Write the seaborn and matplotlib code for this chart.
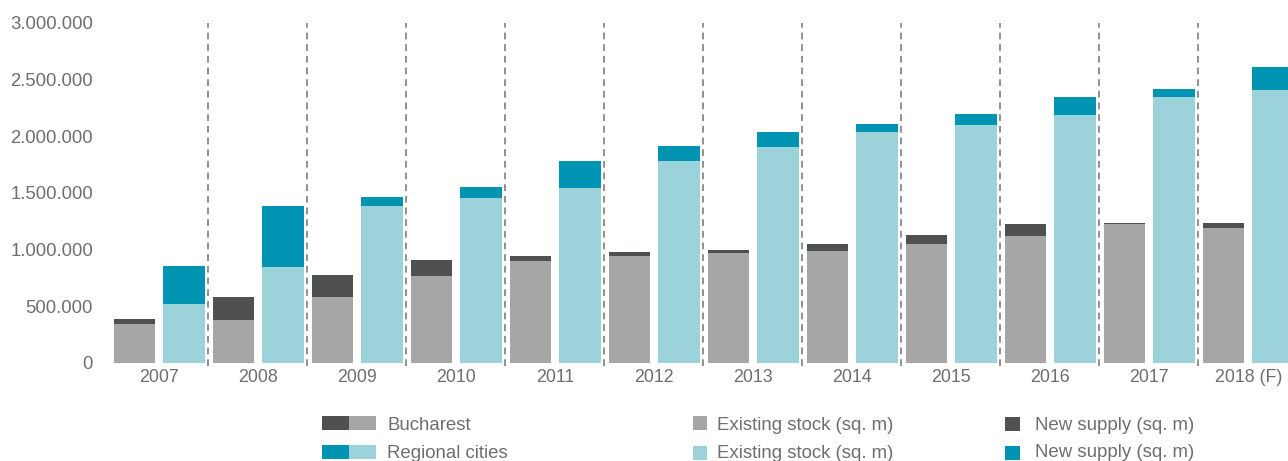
import matplotlib
matplotlib.use("Agg")
import matplotlib.pyplot as plt
from matplotlib.patches import Rectangle
from matplotlib.ticker import FuncFormatter, FixedLocator
import seaborn as sns
import pandas as pd

# Office stock, sq. m
years = ["2007", "2008", "2009", "2010", "2011", "2012",
         "2013", "2014", "2015", "2016", "2017", "2018 (F)"]
buc_existing = [340000, 376000, 579000, 764000, 897000, 941000,
                967000, 985000, 1047000, 1117000, 1223000, 1188000]
buc_new = [45000, 203000, 194000, 141000, 44000, 35000,
           27000, 62000, 79000, 106000, 9000, 44000]
reg_existing = [517000, 844000, 1382000, 1452000, 1540000, 1779000,
                1902000, 2034000, 2096000, 2184000, 2343000, 2405000]
reg_new = [335000, 538000, 79000, 97000, 239000, 132000,
           132000, 71000, 97000, 159000, 70000, 202000]

cities = ["Bucharest", "Regional cities"]
light = {"Bucharest": "#A6A6A6", "Regional cities": "#9CD3DB"}
dark = {"Bucharest": "#4F5150", "Regional cities": "#0094B3"}
text_col = "#6E6E6E"

rows = []
for i, y in enumerate(years):
    rows.append({"year": y, "city": "Bucharest",
                 "existing": buc_existing[i], "total": buc_existing[i] + buc_new[i]})
    rows.append({"year": y, "city": "Regional cities",
                 "existing": reg_existing[i], "total": reg_existing[i] + reg_new[i]})
df = pd.DataFrame(rows)

sns.set_theme(style="white")
plt.rcParams["font.family"] = ["Liberation Sans", "DejaVu Sans"]

fig = plt.figure(figsize=(12.88, 4.61), dpi=100)
ax = fig.add_axes([100 / 1288, 1 - 362.7 / 461, 1 - 100 / 1288, 340 / 461])

# new supply stacked above existing stock: draw totals, then existing over them
sns.barplot(data=df, x="year", y="total", hue="city", hue_order=cities,
            palette=dark, width=1.0, gap=0.16, saturation=1, legend=False,
            errorbar=None, ax=ax, linewidth=0)
sns.barplot(data=df, x="year", y="existing", hue="city", hue_order=cities,
            palette=light, width=1.0, gap=0.16, saturation=1, legend=False,
            errorbar=None, ax=ax, linewidth=0)

# dashed separators between years
for i in range(len(years) - 1):
    ax.plot([i + 0.49, i + 0.49], [-30000, 3000000], color="#909090",
            lw=1.4, ls=(0, (3.5, 2.5)), clip_on=False, zorder=3)

ax.set_xlim(-0.6, 11.4)
ax.set_ylim(0, 3000000)
ax.yaxis.set_major_locator(FixedLocator(range(0, 3000001, 500000)))
ax.yaxis.set_major_formatter(FuncFormatter(lambda v, p: f"{int(v):,}".replace(",", ".")))
ax.tick_params(axis="y", length=0, pad=5, labelsize=13.3, labelcolor=text_col)
ax.tick_params(axis="x", length=0, pad=4.5, labelsize=12.8, labelcolor=text_col)
ax.set_xlabel("")
ax.set_ylabel("")
for s in ax.spines.values():
    s.set_visible(False)
ax.grid(False)

# legend
W, H = 1288, 461


def box(x0, y0, w, h, c):
    fig.patches.append(Rectangle((x0 / W, 1 - (y0 + h) / H), w / W, h / H,
                                 transform=fig.transFigure, color=c, lw=0))


def label(x0, yc, s):
    fig.text(x0 / W, 1 - yc / H, s, ha="left", va="center",
             fontsize=13.4, color=text_col)


box(322, 416, 27, 14, dark["Bucharest"])
box(349, 416, 27, 14, light["Bucharest"])
label(387, 425, "Bucharest")
box(322, 445, 27, 14, dark["Regional cities"])
box(349, 445, 27, 14, light["Regional cities"])
label(387, 453, "Regional cities")

box(693, 416, 14, 14, light["Bucharest"])
label(717, 425, "Existing stock (sq. m)")
box(693, 446, 14, 14, light["Regional cities"])
label(717, 453, "Existing stock (sq. m)")

box(1005, 417, 15, 14, dark["Bucharest"])
label(1035, 425, "New supply (sq. m)")
box(1005, 446, 15, 14, dark["Regional cities"])
label(1035, 452, "New supply (sq. m)")

fig.savefig("out.png", dpi=100)
